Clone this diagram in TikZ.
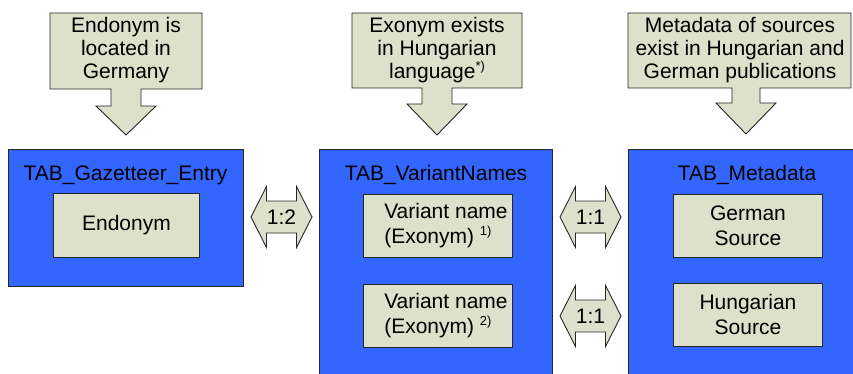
\documentclass[tikz,border=0pt]{standalone}
\usepackage{fontspec}
\setmainfont{Liberation Sans}
\definecolor{tblblue}{HTML}{3366FF}
\definecolor{beige}{HTML}{DDE0CB}
\definecolor{edge}{HTML}{262626}
\newcommand{\bigtxt}{\fontsize{21}{23}\selectfont}
\newcommand{\supx}[1]{\raisebox{8pt}{\fontsize{13}{13}\selectfont #1}}
\tikzset{
  bluebox/.style={draw=edge, line width=0.9pt, fill=tblblue, anchor=north west, inner sep=0pt},
  innerbox/.style={draw=edge, line width=0.9pt, fill=beige, anchor=north west, inner sep=0pt, align=center, font=\bigtxt, execute at begin node={\setlength{\baselineskip}{25pt}}},
  callout/.style={draw=edge, line width=0.9pt, fill=beige, line join=miter},
  dblarrow/.style={draw=edge, line width=0.9pt, fill=beige, line join=miter},
  txt/.style={font=\bigtxt, inner sep=0pt, align=center},
}
\begin{document}
\begin{tikzpicture}[x=1pt,y=-1pt]
\useasboundingbox (0,0) rectangle (853,374);
% callouts
\draw[callout] (50,13) -- (202,13) -- (202,89) -- (141,89) -- (141,106) -- (156,106) -- (126,135) -- (96,106) -- (111,106) -- (111,89) -- (50,89) -- cycle;
\node[txt] (c1) at (126,50) {Endonym is\\located in\\Germany};
\draw[callout] (352,13) -- (522,13) -- (522,88) -- (452,88) -- (452,104) -- (467,104) -- (437,135) -- (407,104) -- (422,104) -- (422,88) -- (352,88) -- cycle;
\node[txt] (c2) at (437,50) {Exonym exists\\in Hungarian\\language\supx{*)}};
\draw[callout] (628,13) -- (851,13) -- (851,88) -- (760,88) -- (760,103) -- (776,103) -- (746,134) -- (716,103) -- (732,103) -- (732,88) -- (628,88) -- cycle;
\node[txt] (c3) at (740,50) {Metadata of sources\\exist in Hungarian and\\German publications};
% tables
\node[bluebox, minimum width=235pt, minimum height=137pt] (b1) at (8,149) {};
\node[bluebox, minimum width=233pt, minimum height=240pt] (b2) at (319,149) {};
\node[bluebox, minimum width=240pt, minimum height=240pt] (b3) at (628,149) {};
\node[txt, anchor=base] (t1) at (125.5,181) {TAB\_Gazetteer\_Entry};
\node[txt, anchor=base] (t2) at (436,181) {TAB\_VariantNames};
\node[txt, anchor=base] (t3) at (747,181) {TAB\_Metadata};
\node[innerbox, minimum width=146pt, minimum height=64pt] (i1) at (53,193) {Endonym};
\node[innerbox, align=left, minimum width=149pt, minimum height=63pt] (i2) at (363,194) {\hspace*{16pt}Variant name\\\hspace*{16pt}(Exonym) \supx{1)}};
\node[innerbox, align=left, minimum width=149pt, minimum height=63pt] (i3) at (363,284) {\hspace*{16pt}Variant name\\\hspace*{16pt}(Exonym) \supx{2)}};
\node[innerbox, minimum width=149pt, minimum height=63pt] (i4) at (673,194) {German\\Source};
\node[innerbox, minimum width=149pt, minimum height=63pt] (i5) at (673,283) {Hungarian\\Source};
% double arrows
\begin{scope}[shift={(281.5,217)}]
\draw[dblarrow] (-30.5,0) -- (-15,-30.5) -- (-15,-16) -- (15,-16) -- (15,-30.5) -- (30.5,0) -- (15,30.5) -- (15,16) -- (-15,16) -- (-15,30.5) -- cycle;
\node[txt] (d1) at (0,0) {1:2};
\end{scope}
\begin{scope}[shift={(590.5,217)}]
\draw[dblarrow] (-30.5,0) -- (-15,-30.5) -- (-15,-16) -- (15,-16) -- (15,-30.5) -- (30.5,0) -- (15,30.5) -- (15,16) -- (-15,16) -- (-15,30.5) -- cycle;
\node[txt] (d2) at (0,0) {1:1};
\end{scope}
\begin{scope}[shift={(590.5,316)}]
\draw[dblarrow] (-30.5,0) -- (-15,-30.5) -- (-15,-16) -- (15,-16) -- (15,-30.5) -- (30.5,0) -- (15,30.5) -- (15,16) -- (-15,16) -- (-15,30.5) -- cycle;
\node[txt] (d3) at (0,0) {1:1};
\end{scope}
\end{tikzpicture}
\end{document}
